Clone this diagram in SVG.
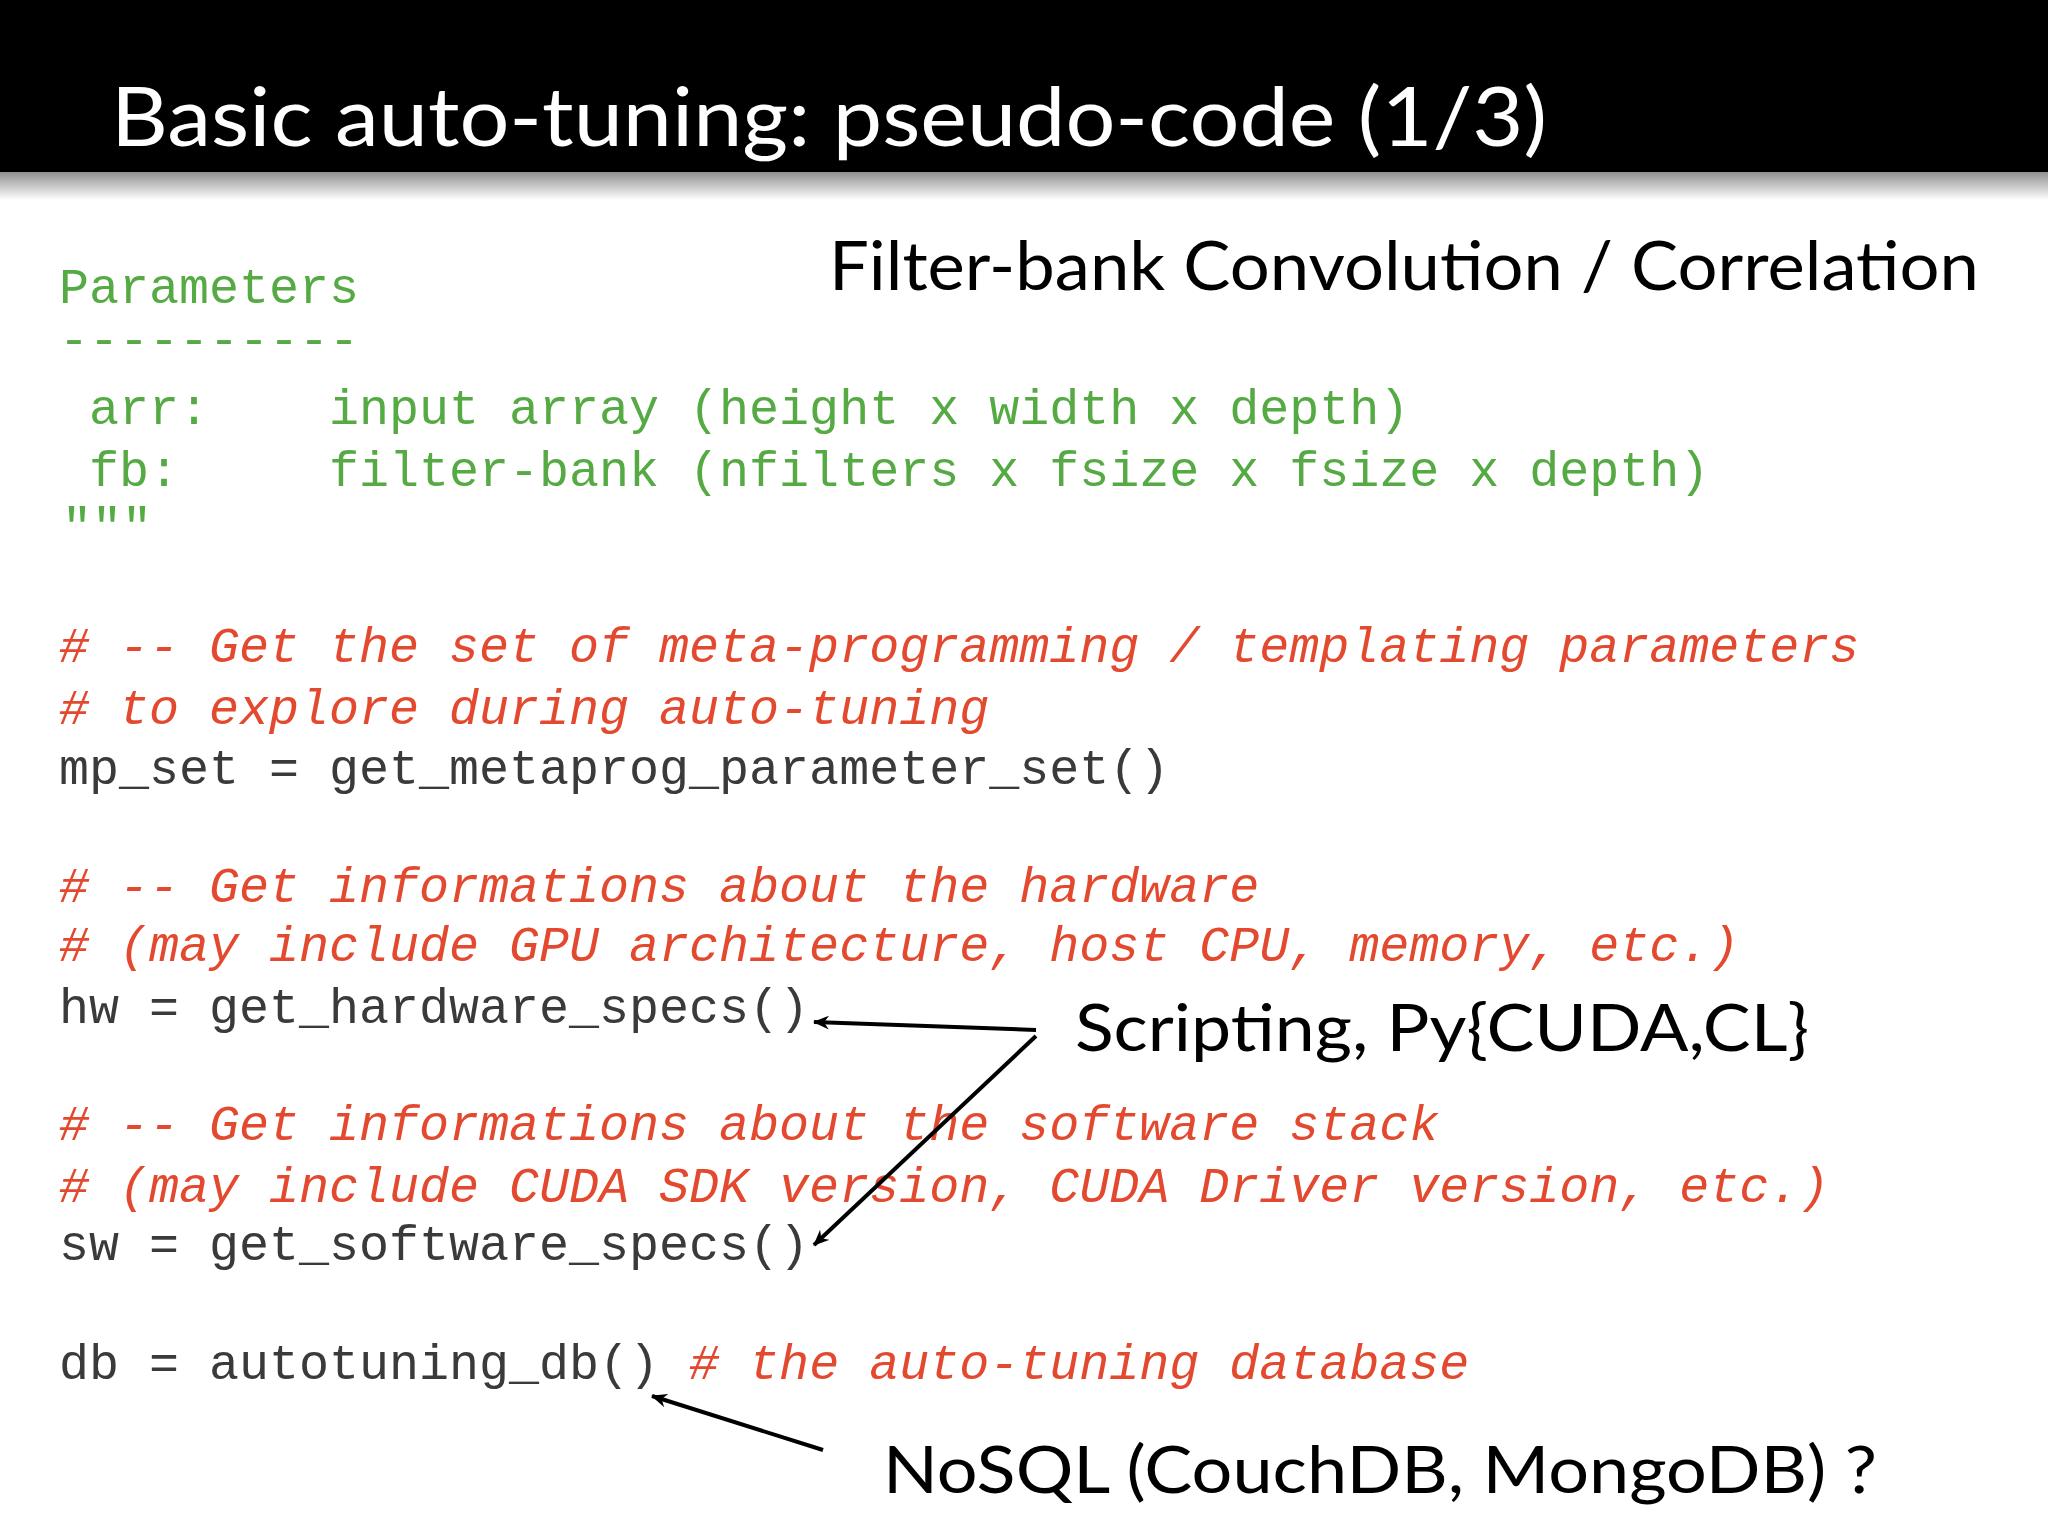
<svg xmlns="http://www.w3.org/2000/svg" width="2048" height="1536" viewBox="0 0 2048 1536">
<defs>
<linearGradient id="sh" x1="0" y1="0" x2="0" y2="1"><stop offset="0" stop-color="#888"/><stop offset="1" stop-color="#fff"/></linearGradient>
<marker id="ah" markerWidth="16" markerHeight="14" refX="15" refY="7" orient="auto" markerUnits="userSpaceOnUse"><path d="M0,0 L16,7 L0,14 L5,7 Z" fill="#000"/></marker>
<style>
.code{font-family:"Liberation Mono","DejaVu Sans Mono",monospace;font-size:50px;white-space:pre}
.g{fill:#55aa44}.c{fill:#e3492e;font-style:italic}.k{fill:#3a3a3a}
.lbl{font-family:Lato,"Open Sans",sans-serif;fill:#000}
.conn line{stroke:#000;stroke-width:4}
</style>
</defs>
<rect width="2048" height="1536" fill="#fff"/>
<rect x="0" y="170" width="2048" height="30" fill="url(#sh)"/>
<rect x="0" y="0" width="2048" height="172" fill="#000"/>
<text x="111" y="146" font-family="Lato,'Open Sans',sans-serif" font-size="81" fill="#fff" textLength="1436" lengthAdjust="spacingAndGlyphs">Basic auto-tuning: pseudo-code (1/3)</text>
<text class="lbl" x="829" y="290" font-size="68" textLength="1150" lengthAdjust="spacingAndGlyphs">Filter-bank Convolution / Correlation</text>
<g id="code" xml:space="preserve">
<text class="code g" x="59" y="303">Parameters</text>
<text class="code g" x="59" y="355">----------</text>
<text class="code g" x="59" y="424"> arr:    input array (height x width x depth)</text>
<text class="code g" x="59" y="486"> fb:     filter-bank (nfilters x fsize x fsize x depth)</text>
<text class="code g" x="62" y="542" font-size="36">"""</text>
<text class="code c" x="59" y="662"># -- Get the set of meta-programming / templating parameters</text>
<text class="code c" x="59" y="724"># to explore during auto-tuning</text>
<text class="code k" x="59" y="784">mp_set = get_metaprog_parameter_set()</text>
<text class="code c" x="59" y="902"># -- Get informations about the hardware</text>
<text class="code c" x="59" y="961"># (may include GPU architecture, host CPU, memory, etc.)</text>
<text class="code k" x="59" y="1023">hw = get_hardware_specs()</text>
<text class="code c" x="59" y="1140"># -- Get informations about the software stack</text>
<text class="code c" x="59" y="1202"># (may include CUDA SDK version, CUDA Driver version, etc.)</text>
<text class="code k" x="59" y="1260">sw = get_software_specs()</text>
<text class="code k" x="59" y="1379">db = autotuning_db() <tspan class="c"># the auto-tuning database</tspan></text>
</g>
<g id="label-scripting"><text class="lbl" x="1075" y="1051" font-size="66" textLength="734" lengthAdjust="spacingAndGlyphs">Scripting, Py{CUDA,CL}</text></g>
<g id="label-nosql"><text class="lbl" x="883" y="1493" font-size="66" textLength="994" lengthAdjust="spacingAndGlyphs">NoSQL (CouchDB, MongoDB) ?</text></g>
<g id="connectors" class="conn">
<line x1="1036" y1="1030" x2="814" y2="1022" marker-end="url(#ah)"/>
<line x1="1036" y1="1036" x2="814" y2="1245" marker-end="url(#ah)"/>
<line x1="823" y1="1450" x2="652" y2="1396" marker-end="url(#ah)"/>
</g>
</svg>
